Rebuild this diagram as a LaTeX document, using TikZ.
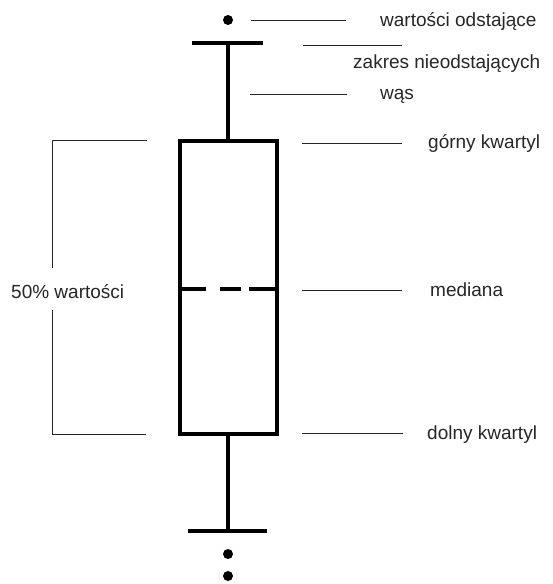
\documentclass[tikz,border=0pt]{standalone}
\usepackage{fontspec}
\setmainfont{Liberation Sans}
\begin{document}
\begin{tikzpicture}[x=1pt,y=-1pt,
  thickline/.style={line width=4pt},
  leader/.style={line width=1pt, black!85},
  lbl/.style={anchor=base west, inner sep=0pt, font=\fontsize{19}{22}\selectfont, text=black!85},
  dot/.style={circle, fill=black, inner sep=0pt, minimum size=10pt}]
\useasboundingbox (0,0) rectangle (552,584);
% box
\draw[thickline] (180,141) rectangle (277,434);
% median
\draw[thickline] (180,289) -- (206,289) (220,289) -- (241,289) (249,289) -- (277,289);
% whiskers
\draw[thickline] (228,43) -- (228,141);
\draw[thickline] (192,43) -- (263,43);
\draw[thickline] (228,434) -- (228,531);
\draw[thickline] (188,531) -- (267,531);
% outliers
\node[dot] (o1) at (228,20) {};
\node[dot] (o2) at (228,554) {};
\node[dot] (o3) at (228,576) {};
% leaders
\draw[leader] (251,20) -- (346,20);
\draw[leader] (303,45) -- (402,45);
\draw[leader] (250,94) -- (347,94);
\draw[leader] (302,143) -- (402,143);
\draw[leader] (302,290) -- (402,290);
\draw[leader] (302,433) -- (403,433);
% bracket
\draw[leader] (147,140) -- (52,140) -- (52,268);
\draw[leader] (52,310) -- (52,434) -- (146,434);
% labels
\node[lbl] (l1) at (380,26) {wartości odstające};
\node[lbl] (l2) at (353,68) {zakres nieodstających};
\node[lbl] (l3) at (380,99) {wąs};
\node[lbl] (l4) at (428,148) {górny kwartyl};
\node[lbl] (l5) at (430,296) {mediana};
\node[lbl] (l6) at (427,439) {dolny kwartyl};
\node[lbl] (l7) at (11,298) {50\% wartości};
\end{tikzpicture}
\end{document}
